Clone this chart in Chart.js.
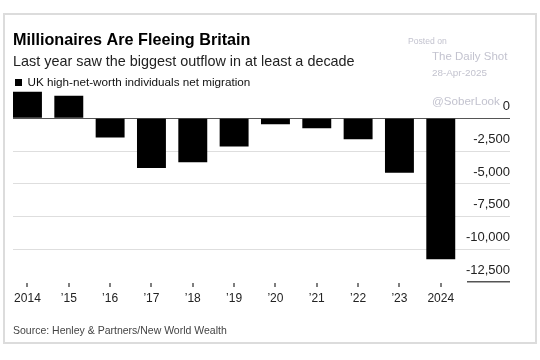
<!DOCTYPE html>
<html><head><meta charset="utf-8">
<script src="https://cdn.jsdelivr.net/npm/chart.js@4/dist/chart.umd.min.js"></script>
<style>html,body{margin:0;padding:0;background:#fff;}canvas{display:block;}</style>
</head><body>
<canvas id="c" width="540" height="360"></canvas>
<script>
// ---- data ----
const years = ['2014','\u201915','\u201916','\u201917','\u201918','\u201919','\u201920','\u201921','\u201922','\u201923','2024'];
const migration = [2040, 1730, -1460, -3790, -3350, -2150, -460, -750, -1590, -4170, -10790];
const yTicks = [0, -2500, -5000, -7500, -10000, -12500];
const seriesName = 'UK high-net-worth individuals net migration';
const titleText = 'Millionaires Are Fleeing Britain';
const subtitleText = 'Last year saw the biggest outflow in at least a decade';
const sourceText = 'Source: Henley & Partners/New World Wealth';
const watermark = ['Posted on', 'The Daily Shot', '28-Apr-2025', '@SoberLook'];

const FONT = '"Liberation Sans", Arial, sans-serif';

const decor = {
  id: 'decor',
  beforeDraw(chart) {
    const ctx = chart.ctx;
    ctx.save();
    ctx.fillStyle = '#fff';
    ctx.fillRect(0, 0, chart.width, chart.height);
    ctx.restore();
  },
  afterDraw(chart) {
    const ctx = chart.ctx;
    const y = chart.scales.y;
    const x = chart.scales.x;
    ctx.save();
    // frame
    ctx.strokeStyle = '#dcdcdc';
    ctx.lineWidth = 2;
    ctx.strokeRect(4, 14, 532, 329);
    // title texts
    ctx.textBaseline = 'alphabetic';
    ctx.textAlign = 'left';
    ctx.fillStyle = '#000';
    ctx.font = 'bold 16.2px ' + FONT;
    ctx.fillText(titleText, 13, 45);
    ctx.fillStyle = '#222';
    ctx.font = '14.4px ' + FONT;
    ctx.fillText(subtitleText, 13, 65.5);
    // legend
    ctx.fillStyle = '#000';
    ctx.fillRect(15, 79, 7, 7);
    ctx.fillStyle = '#111';
    ctx.font = '11.7px ' + FONT;
    ctx.fillText(seriesName, 27.5, 86);
    // source
    ctx.fillStyle = '#444';
    ctx.font = '10.5px ' + FONT;
    ctx.fillText(sourceText, 13, 334);
    // watermark
    ctx.fillStyle = '#c3c3cf';
    ctx.font = '8.6px ' + FONT;
    ctx.fillText(watermark[0], 408, 43.5);
    ctx.font = '11.5px ' + FONT;
    ctx.fillText(watermark[1], 432, 60);
    ctx.font = '9.9px ' + FONT;
    ctx.fillText(watermark[2], 432, 76);
    ctx.font = '11.6px ' + FONT;
    ctx.fillText(watermark[3], 432, 105);
    // bottom axis segment under the lowest label
    const yb = y.getPixelForValue(yTicks[yTicks.length - 1]);
    ctx.strokeStyle = '#555';
    ctx.lineWidth = 1.5;
    ctx.beginPath();
    ctx.moveTo(467, yb);
    ctx.lineTo(chart.chartArea.right, yb);
    ctx.stroke();
    // small x tick marks
    ctx.fillStyle = '#555';
    years.forEach((_, i) => {
      const px = Math.round(x.getPixelForValue(i));
      ctx.fillRect(px - 0.75, Math.round(yb) + 1, 1.5, 4);
    });
    ctx.restore();
  }
};

new Chart(document.getElementById('c'), {
  type: 'bar',
  data: {
    datasets: [{
      label: seriesName,
      data: migration.map((v, i) => ({ x: i, y: v })),
      backgroundColor: '#000',
      borderWidth: 0,
      categoryPercentage: 1,
      barPercentage: 0.7
    }]
  },
  options: {
    responsive: false,
    animation: false,
    devicePixelRatio: 1,
    layout: { padding: { left: 13, right: 30, top: 89.6, bottom: 48.3 } },
    plugins: { legend: { display: false }, tooltip: { enabled: false }, title: { display: false } },
    scales: {
      x: {
        type: 'linear',
        offset: false,
        min: -0.35,
        max: 11.675,
        afterBuildTicks: s => { s.ticks = years.map((_, i) => ({ value: i })); },
        afterFit: s => { s.height = 30; },
        border: { display: false },
        grid: { display: false, drawTicks: true, tickLength: 5 },
        ticks: {
          autoSkip: false, maxRotation: 0, padding: 5,
          color: '#222',
          font: { family: FONT, size: 12 },
          callback: (v) => years[v] ?? ''
        }
      },
      y: {
        position: 'right',
        min: yTicks[yTicks.length - 1],
        max: 2200,
        afterBuildTicks: s => { s.ticks = yTicks.map(v => ({ value: v })); },
        afterFit: s => { s.width = 0; },
        border: { display: false },
        grid: {
          drawTicks: false,
          lineWidth: 1,
          color: c => c.tick && c.tick.value === 0 ? '#555' : (c.tick && c.tick.value === yTicks[yTicks.length - 1] ? 'rgba(0,0,0,0)' : '#dedede')
        },
        ticks: {
          mirror: true, padding: 0, labelOffset: -11.5,
          color: '#222',
          font: { family: FONT, size: 13 },
          callback: v => v.toLocaleString('en-US')
        }
      }
    }
  },
  plugins: [decor]
});
</script>
</body></html>
